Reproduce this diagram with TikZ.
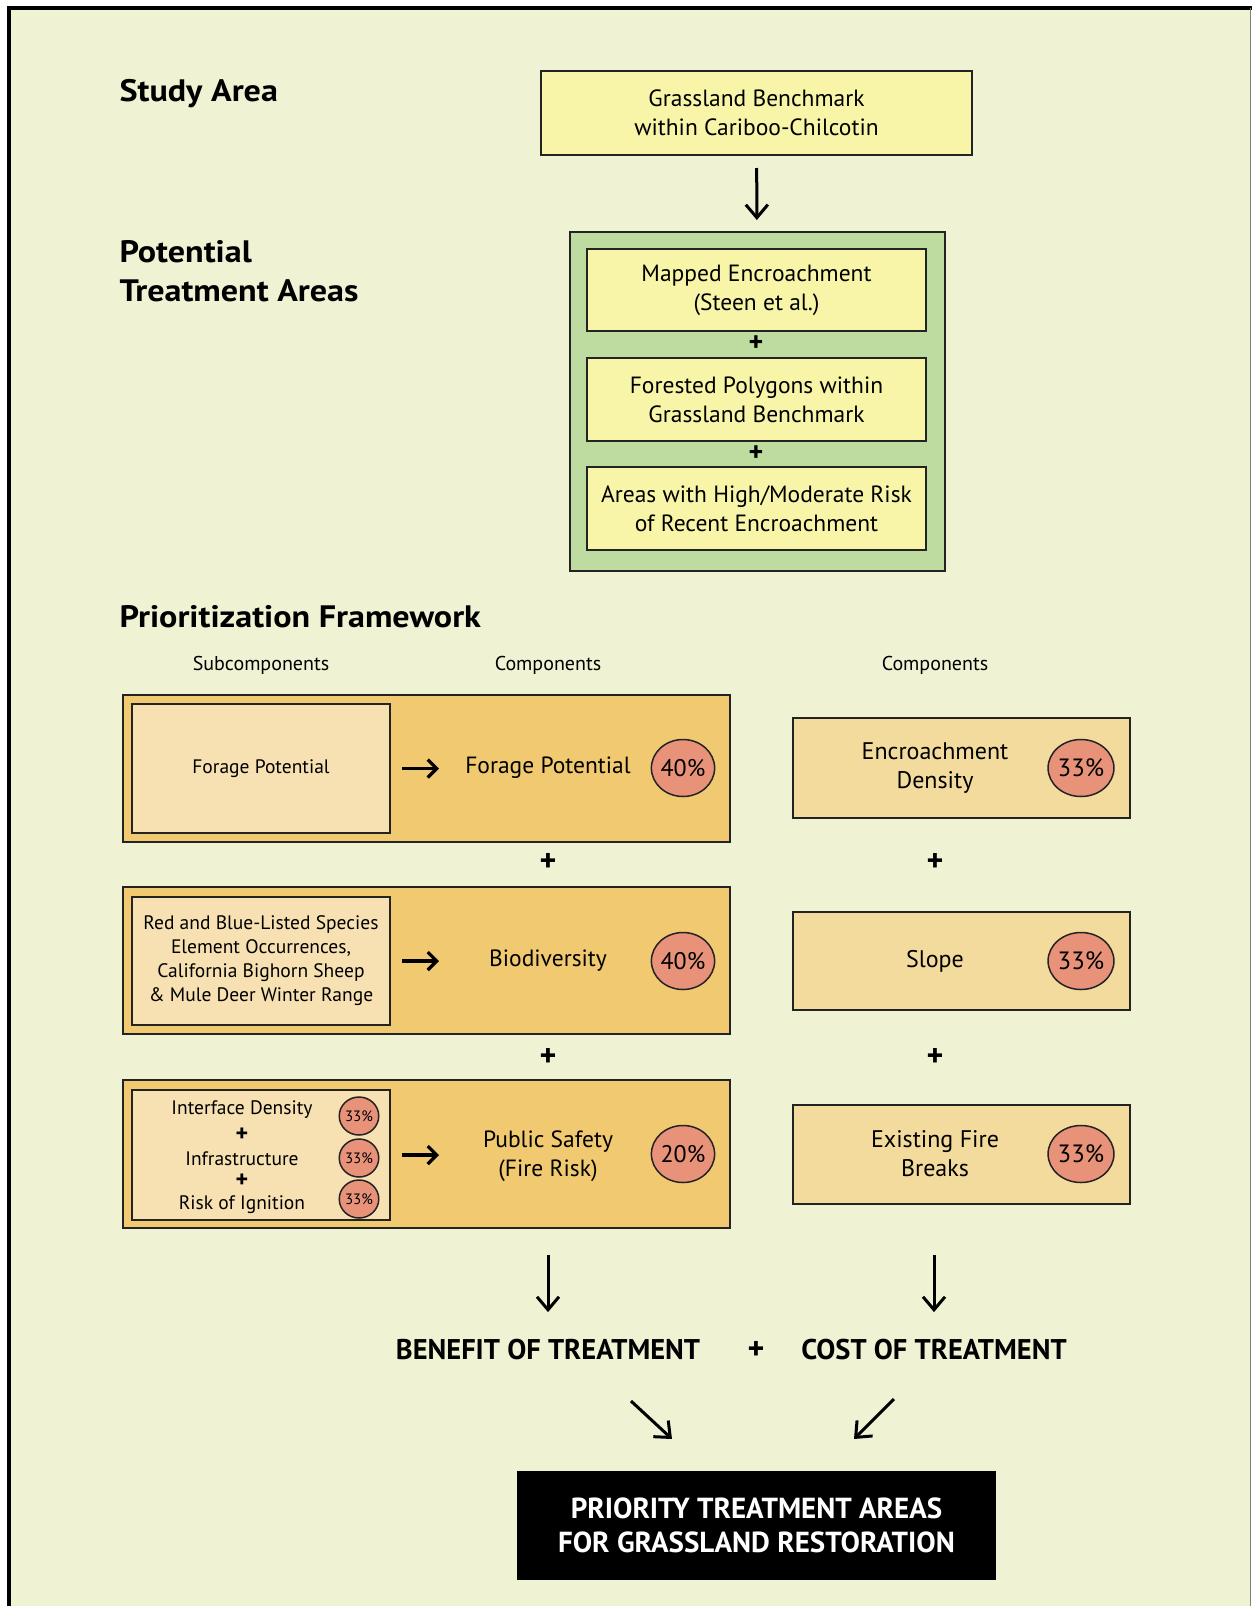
\documentclass[tikz,border=0pt]{standalone}
\usepackage{fontspec}
\setmainfont{PT Sans}
\newfontfamily\widefont{PT Sans}[FakeStretch=1.1]
\usetikzlibrary{positioning,arrows.meta,shapes.geometric}

\definecolor{paper}{RGB}{239,242,211}
\definecolor{boxyellow}{RGB}{248,245,168}
\definecolor{boxgreen}{RGB}{190,220,160}
\definecolor{boxorange}{RGB}{240,201,112}
\definecolor{subfill}{RGB}{247,225,178}
\definecolor{compfill}{RGB}{243,219,158}
\definecolor{pctred}{RGB}{232,146,122}
\definecolor{edgegray}{RGB}{35,35,35}

\newcommand{\fs}[2]{\fontsize{#1}{#2}\selectfont}

\tikzset{
  heading/.style={anchor=west, align=left, font=\widefont\bfseries\fs{31}{39}},
  colhead/.style={font=\fs{20}{22}},
  ybox/.style={draw=edgegray, line width=2, fill=boxyellow, align=center, font=\fs{23.5}{29}},
  gbox/.style={draw=edgegray, line width=2, fill=boxgreen},
  obox/.style={draw=edgegray, line width=2, fill=boxorange},
  subbox/.style={draw=edgegray, line width=2, fill=subfill, align=center, font=\fs{19.5}{24}},
  subtext/.style={inner sep=1, font=\fs{19.5}{24}},
  compbox/.style={draw=edgegray, line width=2, fill=compfill},
  comptext/.style={align=center, font=\fs{23.5}{29}},
  pct/.style={ellipse, draw=edgegray, line width=1.5, fill=pctred, inner sep=0, minimum width=60, minimum height=57, font=\fs{24}{24}},
  smallpct/.style={pct, minimum width=38, minimum height=38, font=\fs{15}{15}},
  plus/.style={inner sep=0, font=\bfseries\fs{32}{32}},
  smallplus/.style={inner sep=0, font=\bfseries\fs{28}{28}},
  tinyplus/.style={inner sep=0, font=\bfseries\fs{24}{24}},
  result/.style={font=\bfseries\fs{28.5}{30}},
  arr/.style={line width=3, -{Straight Barb[length=13, width=22, line width=3]}},
  harr/.style={line width=3.2, -{Straight Barb[length=9, width=18, line width=3.2]}}
}

\begin{document}
\begin{tikzpicture}[x=1pt, y=-1pt]
  \useasboundingbox (0,0) rectangle (1252,1606);
  % Frame
  \fill[paper] (9,8) rectangle (1251,1606);
  \draw[line width=4] (9,1606) -- (9,8) -- (1252,8);
  \draw[gray, line width=1] (1250.5,8) -- (1250.5,1606);

  % Headings
  \node[heading] (study) at (116,94) {Study Area};
  \node[heading] (potential) at (116,271) {Potential\\Treatment Areas};
  \node[heading] (prio) at (116,617) {Prioritization Framework};

  % Study area and potential treatment areas
  \node[ybox, minimum width=431, minimum height=84] (bench) at (756.5,113) {Grassland Benchmark\\within Cariboo-Chilcotin};
  \node[gbox, minimum width=375, minimum height=339] (green) at (757.5,401.5) {};
  \node[ybox, minimum width=339, minimum height=82] (mapped) at (756.5,290) {Mapped Encroachment\\(Steen et al.)};
  \node[ybox, minimum width=339, minimum height=83] (forested) at (756.5,399.5) {Forested Polygons within\\Grassland Benchmark};
  \node[ybox, minimum width=339, minimum height=83] (recent) at (756.5,508.5) {Areas with High/Moderate Risk\\of Recent Encroachment};
  \node[smallplus] at (756,344) {+};
  \node[smallplus] at (756,454) {+};

  % Column heads
  \node[colhead] (subhead) at (261,665) {Subcomponents};
  \node[colhead] (comphead) at (548,665) {Components};
  \node[colhead] (costhead) at (935,665) {Components};

  % Benefit side
  \node[obox, minimum width=607, minimum height=147] (forbox) at (426.5,768.5) {};
  \node[obox, minimum width=607, minimum height=147] (biobox) at (426.5,960.5) {};
  \node[obox, minimum width=607, minimum height=148] (safebox) at (426.5,1154) {};

  \node[subbox, minimum width=258, minimum height=129] (sub1) at (261,768.5) {Forage Potential};
  \node[subbox, minimum width=258, minimum height=128] (sub2) at (261,961) {Red and Blue-Listed Species\\Element Occurrences,\\California Bighorn Sheep\\\& Mule Deer Winter Range};
  \node[subbox, minimum width=258, minimum height=130] (sub3) at (261,1155) {};

  \node[subtext] (iface) at (242,1110) {Interface Density};
  \node[tinyplus] at (242,1135) {+};
  \node[subtext] (infra) at (242,1159) {Infrastructure};
  \node[tinyplus] at (242,1181) {+};
  \node[subtext] (ignite) at (242,1205) {Risk of Ignition};
  \node[smallpct] (p1) at (359,1116) {33\%};
  \node[smallpct] (p2) at (359,1158) {33\%};
  \node[smallpct] (p3) at (359,1199) {33\%};

  \node[comptext] (forage) at (548,768) {Forage Potential};
  \node[comptext] (biodiv) at (548,961) {Biodiversity};
  \node[comptext] (safety) at (548,1156) {Public Safety\\(Fire Risk)};
  \node[pct] (w1) at (683,768) {40\%};
  \node[pct] (w2) at (683,961) {40\%};
  \node[pct] (w3) at (683,1154) {20\%};

  \draw[harr] ([xshift=11]sub1.east) -- ++(37,0);
  \draw[harr] ([xshift=11]sub2.east) -- ++(37,0);
  \draw[harr] ([xshift=11]sub3.east) -- ++(37,0);

  \node[plus] at (548,862) {+};
  \node[plus] at (548,1057) {+};

  % Cost side
  \node[compbox, minimum width=337, minimum height=100] (encbox) at (961.5,768) {};
  \node[compbox, minimum width=337, minimum height=98] (slopebox) at (961.5,961) {};
  \node[compbox, minimum width=337, minimum height=99] (firebox) at (961.5,1154.5) {};
  \node[comptext, font=\fs{24}{29}] (enc) at (935,768) {Encroachment\\Density};
  \node[comptext, font=\fs{24}{29}] (slope) at (935,961) {Slope};
  \node[comptext, font=\fs{24}{29}] (fire) at (935,1154) {Existing Fire\\Breaks};
  \node[pct, minimum width=62, font=\fs{25}{25}] (c1) at (1081,768) {33\%};
  \node[pct, minimum width=62, font=\fs{25}{25}] (c2) at (1081,961) {33\%};
  \node[pct, minimum width=62, font=\fs{25}{25}] (c3) at (1081,1154) {33\%};

  \node[plus] at (935,862) {+};
  \node[plus] at (935,1057) {+};

  % Outcome
  \node[result] (benefit) at (548,1350) {BENEFIT OF TREATMENT};
  \node[plus] (and) at (756,1350) {+};
  \node[result] (cost) at (934,1350) {COST OF TREATMENT};
  \node[fill=black, minimum width=479, minimum height=109, align=center, text=white,
        font=\bfseries\fs{29}{34}] (final) at (756.5,1525.5) {PRIORITY TREATMENT AREAS\\FOR GRASSLAND RESTORATION};

  \coordinate (dl) at (631,1401);
  \coordinate (dr) at (894,1399);

  % Arrows
  \draw[arr, shorten <=12, shorten >=11] (bench) -- (green);
  \draw[arr, shorten <=26, shorten >=24] (safebox.south -| benefit) -- (benefit);
  \draw[arr, shorten <=50, shorten >=24] (firebox.south -| cost) -- (cost);
  \draw[arr] (dl) -- ++(41,38);
  \draw[arr] (dr) -- ++(-40,40);
\end{tikzpicture}
\end{document}
